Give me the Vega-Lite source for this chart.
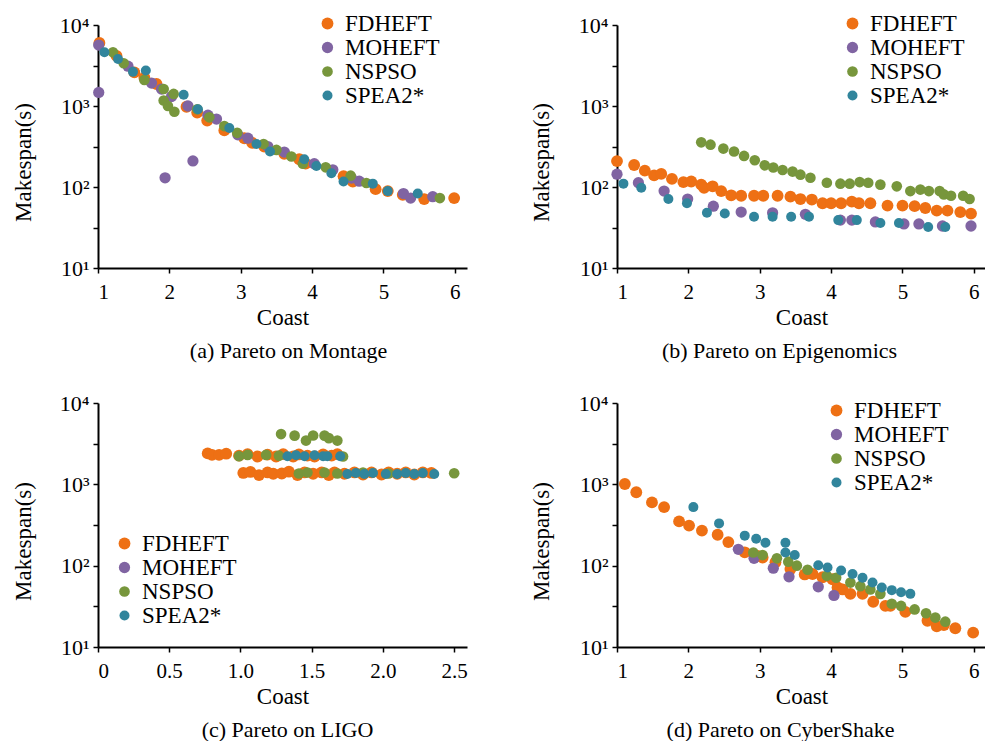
{
  "$schema": "https://vega.github.io/schema/vega-lite/v6.json",
  "padding": {"left": 12, "top": 12, "right": 0, "bottom": 0},
  "background": "white",
  "config": {
    "font": "Liberation Serif",
    "view": {"stroke": null},
    "legend": {
      "labelFont": "Liberation Serif",
      "labelFontSize": 23,
      "labelColor": "black",
      "symbolType": "circle",
      "symbolStrokeWidth": 0,
      "rowPadding": 0,
      "labelOffset": 6,
      "padding": 0
    },
    "title": {"font": "Liberation Serif", "fontSize": 22, "fontWeight": "normal", "color": "black"}
  },
  "resolve": {"scale": {"color": "independent", "size": "independent"}, "legend": {"color": "independent", "size": "independent"}},
  "datasets": {
    "montage": [
      {"Algorithm": "FDHEFT", "Coast": 1.02, "Makespan": 6000},
      {"Algorithm": "FDHEFT", "Coast": 1.26, "Makespan": 4150},
      {"Algorithm": "FDHEFT", "Coast": 1.51, "Makespan": 2600},
      {"Algorithm": "FDHEFT", "Coast": 1.65, "Makespan": 2240},
      {"Algorithm": "FDHEFT", "Coast": 1.82, "Makespan": 1870},
      {"Algorithm": "FDHEFT", "Coast": 2.24, "Makespan": 980},
      {"Algorithm": "FDHEFT", "Coast": 2.39, "Makespan": 830},
      {"Algorithm": "FDHEFT", "Coast": 2.53, "Makespan": 660},
      {"Algorithm": "FDHEFT", "Coast": 2.77, "Makespan": 500},
      {"Algorithm": "FDHEFT", "Coast": 3.05, "Makespan": 400},
      {"Algorithm": "FDHEFT", "Coast": 3.16, "Makespan": 350},
      {"Algorithm": "FDHEFT", "Coast": 3.33, "Makespan": 316},
      {"Algorithm": "FDHEFT", "Coast": 3.61, "Makespan": 257},
      {"Algorithm": "FDHEFT", "Coast": 3.82, "Makespan": 220},
      {"Algorithm": "FDHEFT", "Coast": 3.91, "Makespan": 194},
      {"Algorithm": "FDHEFT", "Coast": 4.44, "Makespan": 136},
      {"Algorithm": "FDHEFT", "Coast": 4.57, "Makespan": 117},
      {"Algorithm": "FDHEFT", "Coast": 4.89, "Makespan": 94},
      {"Algorithm": "FDHEFT", "Coast": 5.06, "Makespan": 89},
      {"Algorithm": "FDHEFT", "Coast": 5.27, "Makespan": 80},
      {"Algorithm": "FDHEFT", "Coast": 5.57, "Makespan": 71},
      {"Algorithm": "FDHEFT", "Coast": 5.99, "Makespan": 73},
      {"Algorithm": "MOHEFT", "Coast": 1.01, "Makespan": 5650},
      {"Algorithm": "MOHEFT", "Coast": 1.01, "Makespan": 1470},
      {"Algorithm": "MOHEFT", "Coast": 1.42, "Makespan": 3100},
      {"Algorithm": "MOHEFT", "Coast": 1.75, "Makespan": 1920},
      {"Algorithm": "MOHEFT", "Coast": 1.89, "Makespan": 1620},
      {"Algorithm": "MOHEFT", "Coast": 2.03, "Makespan": 1310},
      {"Algorithm": "MOHEFT", "Coast": 2.26, "Makespan": 1000},
      {"Algorithm": "MOHEFT", "Coast": 1.94, "Makespan": 130},
      {"Algorithm": "MOHEFT", "Coast": 2.33, "Makespan": 210},
      {"Algorithm": "MOHEFT", "Coast": 2.54, "Makespan": 770},
      {"Algorithm": "MOHEFT", "Coast": 2.66, "Makespan": 690},
      {"Algorithm": "MOHEFT", "Coast": 2.96, "Makespan": 440},
      {"Algorithm": "MOHEFT", "Coast": 3.1, "Makespan": 400},
      {"Algorithm": "MOHEFT", "Coast": 3.38, "Makespan": 316},
      {"Algorithm": "MOHEFT", "Coast": 3.61, "Makespan": 270},
      {"Algorithm": "MOHEFT", "Coast": 4.03, "Makespan": 194},
      {"Algorithm": "MOHEFT", "Coast": 4.29, "Makespan": 163},
      {"Algorithm": "MOHEFT", "Coast": 4.55, "Makespan": 129},
      {"Algorithm": "MOHEFT", "Coast": 4.66, "Makespan": 118},
      {"Algorithm": "MOHEFT", "Coast": 5.28, "Makespan": 83},
      {"Algorithm": "MOHEFT", "Coast": 5.38, "Makespan": 73},
      {"Algorithm": "MOHEFT", "Coast": 5.69, "Makespan": 76},
      {"Algorithm": "NSPSO", "Coast": 1.21, "Makespan": 4600},
      {"Algorithm": "NSPSO", "Coast": 1.36, "Makespan": 3370},
      {"Algorithm": "NSPSO", "Coast": 1.65, "Makespan": 2100},
      {"Algorithm": "NSPSO", "Coast": 1.92, "Makespan": 1620},
      {"Algorithm": "NSPSO", "Coast": 2.06, "Makespan": 1410},
      {"Algorithm": "NSPSO", "Coast": 1.92, "Makespan": 1170},
      {"Algorithm": "NSPSO", "Coast": 1.98, "Makespan": 1000},
      {"Algorithm": "NSPSO", "Coast": 2.07, "Makespan": 850},
      {"Algorithm": "NSPSO", "Coast": 2.39, "Makespan": 910},
      {"Algorithm": "NSPSO", "Coast": 2.56, "Makespan": 725},
      {"Algorithm": "NSPSO", "Coast": 2.77, "Makespan": 565},
      {"Algorithm": "NSPSO", "Coast": 2.95, "Makespan": 466},
      {"Algorithm": "NSPSO", "Coast": 3.32, "Makespan": 340},
      {"Algorithm": "NSPSO", "Coast": 3.5, "Makespan": 287},
      {"Algorithm": "NSPSO", "Coast": 3.71, "Makespan": 238},
      {"Algorithm": "NSPSO", "Coast": 3.87, "Makespan": 194},
      {"Algorithm": "NSPSO", "Coast": 4.19, "Makespan": 175},
      {"Algorithm": "NSPSO", "Coast": 4.54, "Makespan": 138},
      {"Algorithm": "NSPSO", "Coast": 4.76, "Makespan": 112},
      {"Algorithm": "NSPSO", "Coast": 5.79, "Makespan": 73},
      {"Algorithm": "SPEA2*", "Coast": 1.09, "Makespan": 4600},
      {"Algorithm": "SPEA2*", "Coast": 1.28, "Makespan": 3800},
      {"Algorithm": "SPEA2*", "Coast": 1.49, "Makespan": 2640},
      {"Algorithm": "SPEA2*", "Coast": 1.67, "Makespan": 2740},
      {"Algorithm": "SPEA2*", "Coast": 2.2, "Makespan": 1380},
      {"Algorithm": "SPEA2*", "Coast": 2.4, "Makespan": 910},
      {"Algorithm": "SPEA2*", "Coast": 2.84, "Makespan": 535},
      {"Algorithm": "SPEA2*", "Coast": 3.22, "Makespan": 340},
      {"Algorithm": "SPEA2*", "Coast": 3.41, "Makespan": 275},
      {"Algorithm": "SPEA2*", "Coast": 3.89, "Makespan": 220},
      {"Algorithm": "SPEA2*", "Coast": 4.06, "Makespan": 182},
      {"Algorithm": "SPEA2*", "Coast": 4.27, "Makespan": 148},
      {"Algorithm": "SPEA2*", "Coast": 4.44, "Makespan": 117},
      {"Algorithm": "SPEA2*", "Coast": 4.85, "Makespan": 110},
      {"Algorithm": "SPEA2*", "Coast": 5.06, "Makespan": 89},
      {"Algorithm": "SPEA2*", "Coast": 5.48, "Makespan": 83}
    ],
    "epigenomics": [
      {"Algorithm": "FDHEFT", "Coast": 1.0, "Makespan": 209},
      {"Algorithm": "FDHEFT", "Coast": 1.24, "Makespan": 187},
      {"Algorithm": "FDHEFT", "Coast": 1.39, "Makespan": 159},
      {"Algorithm": "FDHEFT", "Coast": 1.52, "Makespan": 139},
      {"Algorithm": "FDHEFT", "Coast": 1.62, "Makespan": 145},
      {"Algorithm": "FDHEFT", "Coast": 1.77, "Makespan": 126},
      {"Algorithm": "FDHEFT", "Coast": 1.93, "Makespan": 115},
      {"Algorithm": "FDHEFT", "Coast": 2.04, "Makespan": 117},
      {"Algorithm": "FDHEFT", "Coast": 2.18, "Makespan": 107},
      {"Algorithm": "FDHEFT", "Coast": 2.22, "Makespan": 98},
      {"Algorithm": "FDHEFT", "Coast": 2.34, "Makespan": 102},
      {"Algorithm": "FDHEFT", "Coast": 2.46, "Makespan": 89},
      {"Algorithm": "FDHEFT", "Coast": 2.6, "Makespan": 79},
      {"Algorithm": "FDHEFT", "Coast": 2.74, "Makespan": 78},
      {"Algorithm": "FDHEFT", "Coast": 2.92, "Makespan": 78},
      {"Algorithm": "FDHEFT", "Coast": 3.05, "Makespan": 78},
      {"Algorithm": "FDHEFT", "Coast": 3.25, "Makespan": 78},
      {"Algorithm": "FDHEFT", "Coast": 3.43, "Makespan": 76},
      {"Algorithm": "FDHEFT", "Coast": 3.57, "Makespan": 71},
      {"Algorithm": "FDHEFT", "Coast": 3.73, "Makespan": 70},
      {"Algorithm": "FDHEFT", "Coast": 3.88, "Makespan": 63},
      {"Algorithm": "FDHEFT", "Coast": 4.0, "Makespan": 63},
      {"Algorithm": "FDHEFT", "Coast": 4.14, "Makespan": 63},
      {"Algorithm": "FDHEFT", "Coast": 4.29, "Makespan": 66},
      {"Algorithm": "FDHEFT", "Coast": 4.39, "Makespan": 63},
      {"Algorithm": "FDHEFT", "Coast": 4.55, "Makespan": 63},
      {"Algorithm": "FDHEFT", "Coast": 4.79, "Makespan": 59},
      {"Algorithm": "FDHEFT", "Coast": 5.0, "Makespan": 59},
      {"Algorithm": "FDHEFT", "Coast": 5.17, "Makespan": 58},
      {"Algorithm": "FDHEFT", "Coast": 5.32, "Makespan": 55},
      {"Algorithm": "FDHEFT", "Coast": 5.48, "Makespan": 51},
      {"Algorithm": "FDHEFT", "Coast": 5.63, "Makespan": 51},
      {"Algorithm": "FDHEFT", "Coast": 5.81, "Makespan": 49},
      {"Algorithm": "FDHEFT", "Coast": 5.96, "Makespan": 47},
      {"Algorithm": "MOHEFT", "Coast": 1.0, "Makespan": 144},
      {"Algorithm": "MOHEFT", "Coast": 1.3, "Makespan": 113},
      {"Algorithm": "MOHEFT", "Coast": 1.66, "Makespan": 89},
      {"Algorithm": "MOHEFT", "Coast": 1.99, "Makespan": 71},
      {"Algorithm": "MOHEFT", "Coast": 2.35, "Makespan": 58},
      {"Algorithm": "MOHEFT", "Coast": 2.74, "Makespan": 49},
      {"Algorithm": "MOHEFT", "Coast": 3.18, "Makespan": 48},
      {"Algorithm": "MOHEFT", "Coast": 3.64, "Makespan": 46},
      {"Algorithm": "MOHEFT", "Coast": 4.13, "Makespan": 39},
      {"Algorithm": "MOHEFT", "Coast": 4.29, "Makespan": 39},
      {"Algorithm": "MOHEFT", "Coast": 4.62, "Makespan": 37},
      {"Algorithm": "MOHEFT", "Coast": 5.02, "Makespan": 35},
      {"Algorithm": "MOHEFT", "Coast": 5.23, "Makespan": 35},
      {"Algorithm": "MOHEFT", "Coast": 5.56, "Makespan": 33},
      {"Algorithm": "MOHEFT", "Coast": 5.96, "Makespan": 33},
      {"Algorithm": "NSPSO", "Coast": 2.18, "Makespan": 356},
      {"Algorithm": "NSPSO", "Coast": 2.31, "Makespan": 333},
      {"Algorithm": "NSPSO", "Coast": 2.49, "Makespan": 298},
      {"Algorithm": "NSPSO", "Coast": 2.64, "Makespan": 274},
      {"Algorithm": "NSPSO", "Coast": 2.78, "Makespan": 242},
      {"Algorithm": "NSPSO", "Coast": 2.93, "Makespan": 214},
      {"Algorithm": "NSPSO", "Coast": 3.07, "Makespan": 185},
      {"Algorithm": "NSPSO", "Coast": 3.19, "Makespan": 174},
      {"Algorithm": "NSPSO", "Coast": 3.32, "Makespan": 162},
      {"Algorithm": "NSPSO", "Coast": 3.46, "Makespan": 155},
      {"Algorithm": "NSPSO", "Coast": 3.57, "Makespan": 142},
      {"Algorithm": "NSPSO", "Coast": 3.71, "Makespan": 130},
      {"Algorithm": "NSPSO", "Coast": 3.94, "Makespan": 113},
      {"Algorithm": "NSPSO", "Coast": 4.13, "Makespan": 110},
      {"Algorithm": "NSPSO", "Coast": 4.26, "Makespan": 110},
      {"Algorithm": "NSPSO", "Coast": 4.4, "Makespan": 115},
      {"Algorithm": "NSPSO", "Coast": 4.52, "Makespan": 113},
      {"Algorithm": "NSPSO", "Coast": 4.69, "Makespan": 107},
      {"Algorithm": "NSPSO", "Coast": 4.92, "Makespan": 102},
      {"Algorithm": "NSPSO", "Coast": 5.11, "Makespan": 89},
      {"Algorithm": "NSPSO", "Coast": 5.25, "Makespan": 93},
      {"Algorithm": "NSPSO", "Coast": 5.37, "Makespan": 89},
      {"Algorithm": "NSPSO", "Coast": 5.52, "Makespan": 89},
      {"Algorithm": "NSPSO", "Coast": 5.58, "Makespan": 81},
      {"Algorithm": "NSPSO", "Coast": 5.68, "Makespan": 78},
      {"Algorithm": "NSPSO", "Coast": 5.85, "Makespan": 78},
      {"Algorithm": "NSPSO", "Coast": 5.94, "Makespan": 71},
      {"Algorithm": "SPEA2*", "Coast": 1.09, "Makespan": 110},
      {"Algorithm": "SPEA2*", "Coast": 1.34, "Makespan": 98},
      {"Algorithm": "SPEA2*", "Coast": 1.72, "Makespan": 71},
      {"Algorithm": "SPEA2*", "Coast": 1.98, "Makespan": 63},
      {"Algorithm": "SPEA2*", "Coast": 2.26, "Makespan": 48},
      {"Algorithm": "SPEA2*", "Coast": 2.51, "Makespan": 47},
      {"Algorithm": "SPEA2*", "Coast": 2.92, "Makespan": 43},
      {"Algorithm": "SPEA2*", "Coast": 3.18, "Makespan": 43},
      {"Algorithm": "SPEA2*", "Coast": 3.44, "Makespan": 43},
      {"Algorithm": "SPEA2*", "Coast": 3.69, "Makespan": 43},
      {"Algorithm": "SPEA2*", "Coast": 4.1, "Makespan": 39},
      {"Algorithm": "SPEA2*", "Coast": 4.36, "Makespan": 39},
      {"Algorithm": "SPEA2*", "Coast": 4.69, "Makespan": 36},
      {"Algorithm": "SPEA2*", "Coast": 4.95, "Makespan": 36},
      {"Algorithm": "SPEA2*", "Coast": 5.36, "Makespan": 32},
      {"Algorithm": "SPEA2*", "Coast": 5.6, "Makespan": 32}
    ],
    "ligo": [
      {"Algorithm": "FDHEFT", "Coast": 0.77, "Makespan": 2400},
      {"Algorithm": "FDHEFT", "Coast": 0.8, "Makespan": 2300},
      {"Algorithm": "FDHEFT", "Coast": 0.85, "Makespan": 2300},
      {"Algorithm": "FDHEFT", "Coast": 0.9, "Makespan": 2380},
      {"Algorithm": "FDHEFT", "Coast": 0.99, "Makespan": 2250},
      {"Algorithm": "FDHEFT", "Coast": 1.05, "Makespan": 2350},
      {"Algorithm": "FDHEFT", "Coast": 1.12, "Makespan": 2200},
      {"Algorithm": "FDHEFT", "Coast": 1.19, "Makespan": 2320},
      {"Algorithm": "FDHEFT", "Coast": 1.25, "Makespan": 2200},
      {"Algorithm": "FDHEFT", "Coast": 1.3, "Makespan": 2350},
      {"Algorithm": "FDHEFT", "Coast": 1.37, "Makespan": 2200},
      {"Algorithm": "FDHEFT", "Coast": 1.41, "Makespan": 2330},
      {"Algorithm": "FDHEFT", "Coast": 1.47, "Makespan": 2250},
      {"Algorithm": "FDHEFT", "Coast": 1.52, "Makespan": 2200},
      {"Algorithm": "FDHEFT", "Coast": 1.58, "Makespan": 2330},
      {"Algorithm": "FDHEFT", "Coast": 1.64, "Makespan": 2250},
      {"Algorithm": "FDHEFT", "Coast": 1.68, "Makespan": 2350},
      {"Algorithm": "FDHEFT", "Coast": 1.02, "Makespan": 1380},
      {"Algorithm": "FDHEFT", "Coast": 1.07, "Makespan": 1420},
      {"Algorithm": "FDHEFT", "Coast": 1.13, "Makespan": 1300},
      {"Algorithm": "FDHEFT", "Coast": 1.19, "Makespan": 1400},
      {"Algorithm": "FDHEFT", "Coast": 1.23, "Makespan": 1350},
      {"Algorithm": "FDHEFT", "Coast": 1.29, "Makespan": 1360},
      {"Algorithm": "FDHEFT", "Coast": 1.34, "Makespan": 1430},
      {"Algorithm": "FDHEFT", "Coast": 1.4, "Makespan": 1300},
      {"Algorithm": "FDHEFT", "Coast": 1.45, "Makespan": 1400},
      {"Algorithm": "FDHEFT", "Coast": 1.51, "Makespan": 1350},
      {"Algorithm": "FDHEFT", "Coast": 1.57, "Makespan": 1400},
      {"Algorithm": "FDHEFT", "Coast": 1.62, "Makespan": 1300},
      {"Algorithm": "FDHEFT", "Coast": 1.66, "Makespan": 1400},
      {"Algorithm": "FDHEFT", "Coast": 1.73, "Makespan": 1350},
      {"Algorithm": "FDHEFT", "Coast": 1.8, "Makespan": 1400},
      {"Algorithm": "FDHEFT", "Coast": 1.86, "Makespan": 1320},
      {"Algorithm": "FDHEFT", "Coast": 1.92, "Makespan": 1400},
      {"Algorithm": "FDHEFT", "Coast": 1.99, "Makespan": 1320},
      {"Algorithm": "FDHEFT", "Coast": 2.04, "Makespan": 1400},
      {"Algorithm": "FDHEFT", "Coast": 2.1, "Makespan": 1350},
      {"Algorithm": "FDHEFT", "Coast": 2.16, "Makespan": 1400},
      {"Algorithm": "FDHEFT", "Coast": 2.22, "Makespan": 1320},
      {"Algorithm": "FDHEFT", "Coast": 2.28, "Makespan": 1400},
      {"Algorithm": "FDHEFT", "Coast": 2.34, "Makespan": 1380},
      {"Algorithm": "NSPSO", "Coast": 1.285, "Makespan": 4150},
      {"Algorithm": "NSPSO", "Coast": 1.38, "Makespan": 3970},
      {"Algorithm": "NSPSO", "Coast": 1.46, "Makespan": 3450},
      {"Algorithm": "NSPSO", "Coast": 1.51, "Makespan": 3990},
      {"Algorithm": "NSPSO", "Coast": 1.59, "Makespan": 3970},
      {"Algorithm": "NSPSO", "Coast": 1.62, "Makespan": 3700},
      {"Algorithm": "NSPSO", "Coast": 1.68, "Makespan": 3450},
      {"Algorithm": "NSPSO", "Coast": 0.99, "Makespan": 2220},
      {"Algorithm": "NSPSO", "Coast": 1.05, "Makespan": 2300},
      {"Algorithm": "NSPSO", "Coast": 1.18, "Makespan": 2300},
      {"Algorithm": "NSPSO", "Coast": 1.27, "Makespan": 2250},
      {"Algorithm": "NSPSO", "Coast": 1.72, "Makespan": 2200},
      {"Algorithm": "NSPSO", "Coast": 1.41, "Makespan": 1360},
      {"Algorithm": "NSPSO", "Coast": 1.47, "Makespan": 1400},
      {"Algorithm": "NSPSO", "Coast": 1.59, "Makespan": 1400},
      {"Algorithm": "NSPSO", "Coast": 1.68, "Makespan": 1360},
      {"Algorithm": "NSPSO", "Coast": 1.86, "Makespan": 1400},
      {"Algorithm": "NSPSO", "Coast": 2.04, "Makespan": 1360},
      {"Algorithm": "NSPSO", "Coast": 2.5, "Makespan": 1370},
      {"Algorithm": "SPEA2*", "Coast": 1.33, "Makespan": 2215},
      {"Algorithm": "SPEA2*", "Coast": 1.39, "Makespan": 2280},
      {"Algorithm": "SPEA2*", "Coast": 1.45, "Makespan": 2215},
      {"Algorithm": "SPEA2*", "Coast": 1.52, "Makespan": 2280},
      {"Algorithm": "SPEA2*", "Coast": 1.58, "Makespan": 2215},
      {"Algorithm": "SPEA2*", "Coast": 1.61, "Makespan": 2215},
      {"Algorithm": "SPEA2*", "Coast": 1.7, "Makespan": 2215},
      {"Algorithm": "SPEA2*", "Coast": 1.75, "Makespan": 1340},
      {"Algorithm": "SPEA2*", "Coast": 1.81, "Makespan": 1380},
      {"Algorithm": "SPEA2*", "Coast": 1.87, "Makespan": 1340},
      {"Algorithm": "SPEA2*", "Coast": 1.93, "Makespan": 1380},
      {"Algorithm": "SPEA2*", "Coast": 2.02, "Makespan": 1340},
      {"Algorithm": "SPEA2*", "Coast": 2.1, "Makespan": 1340},
      {"Algorithm": "SPEA2*", "Coast": 2.16, "Makespan": 1380},
      {"Algorithm": "SPEA2*", "Coast": 2.22, "Makespan": 1340},
      {"Algorithm": "SPEA2*", "Coast": 2.28, "Makespan": 1380},
      {"Algorithm": "SPEA2*", "Coast": 2.36, "Makespan": 1343}
    ],
    "cybershake": [
      {"Algorithm": "FDHEFT", "Coast": 1.11, "Makespan": 1010},
      {"Algorithm": "FDHEFT", "Coast": 1.27, "Makespan": 800},
      {"Algorithm": "FDHEFT", "Coast": 1.49, "Makespan": 600},
      {"Algorithm": "FDHEFT", "Coast": 1.66, "Makespan": 525},
      {"Algorithm": "FDHEFT", "Coast": 1.87, "Makespan": 350},
      {"Algorithm": "FDHEFT", "Coast": 2.01, "Makespan": 311},
      {"Algorithm": "FDHEFT", "Coast": 2.19, "Makespan": 270},
      {"Algorithm": "FDHEFT", "Coast": 2.41, "Makespan": 240},
      {"Algorithm": "FDHEFT", "Coast": 2.56, "Makespan": 195},
      {"Algorithm": "FDHEFT", "Coast": 2.79, "Makespan": 146},
      {"Algorithm": "FDHEFT", "Coast": 2.97, "Makespan": 132},
      {"Algorithm": "FDHEFT", "Coast": 3.04, "Makespan": 126},
      {"Algorithm": "FDHEFT", "Coast": 3.22, "Makespan": 110},
      {"Algorithm": "FDHEFT", "Coast": 3.43, "Makespan": 91},
      {"Algorithm": "FDHEFT", "Coast": 3.63, "Makespan": 78},
      {"Algorithm": "FDHEFT", "Coast": 3.74, "Makespan": 79},
      {"Algorithm": "FDHEFT", "Coast": 3.88, "Makespan": 72},
      {"Algorithm": "FDHEFT", "Coast": 4.02, "Makespan": 68},
      {"Algorithm": "FDHEFT", "Coast": 4.09, "Makespan": 54},
      {"Algorithm": "FDHEFT", "Coast": 4.16, "Makespan": 51},
      {"Algorithm": "FDHEFT", "Coast": 4.27, "Makespan": 45},
      {"Algorithm": "FDHEFT", "Coast": 4.44, "Makespan": 45},
      {"Algorithm": "FDHEFT", "Coast": 4.59, "Makespan": 36},
      {"Algorithm": "FDHEFT", "Coast": 4.76, "Makespan": 32},
      {"Algorithm": "FDHEFT", "Coast": 4.83, "Makespan": 32},
      {"Algorithm": "FDHEFT", "Coast": 5.04, "Makespan": 27},
      {"Algorithm": "FDHEFT", "Coast": 5.35, "Makespan": 21},
      {"Algorithm": "FDHEFT", "Coast": 5.48, "Makespan": 18},
      {"Algorithm": "FDHEFT", "Coast": 5.58, "Makespan": 18.6},
      {"Algorithm": "FDHEFT", "Coast": 5.74, "Makespan": 17},
      {"Algorithm": "FDHEFT", "Coast": 5.99, "Makespan": 15},
      {"Algorithm": "MOHEFT", "Coast": 2.7, "Makespan": 159},
      {"Algorithm": "MOHEFT", "Coast": 2.92, "Makespan": 123},
      {"Algorithm": "MOHEFT", "Coast": 3.19, "Makespan": 93},
      {"Algorithm": "MOHEFT", "Coast": 3.41, "Makespan": 73},
      {"Algorithm": "MOHEFT", "Coast": 3.82, "Makespan": 55},
      {"Algorithm": "MOHEFT", "Coast": 4.04, "Makespan": 43},
      {"Algorithm": "NSPSO", "Coast": 2.91, "Makespan": 145},
      {"Algorithm": "NSPSO", "Coast": 3.04, "Makespan": 135},
      {"Algorithm": "NSPSO", "Coast": 3.24, "Makespan": 123},
      {"Algorithm": "NSPSO", "Coast": 3.4, "Makespan": 112},
      {"Algorithm": "NSPSO", "Coast": 3.52, "Makespan": 100},
      {"Algorithm": "NSPSO", "Coast": 3.67, "Makespan": 89},
      {"Algorithm": "NSPSO", "Coast": 3.94, "Makespan": 75},
      {"Algorithm": "NSPSO", "Coast": 4.07, "Makespan": 71},
      {"Algorithm": "NSPSO", "Coast": 4.27, "Makespan": 62},
      {"Algorithm": "NSPSO", "Coast": 4.41, "Makespan": 56},
      {"Algorithm": "NSPSO", "Coast": 4.55, "Makespan": 51},
      {"Algorithm": "NSPSO", "Coast": 4.69, "Makespan": 45},
      {"Algorithm": "NSPSO", "Coast": 4.85, "Makespan": 34},
      {"Algorithm": "NSPSO", "Coast": 4.98, "Makespan": 32},
      {"Algorithm": "NSPSO", "Coast": 5.17, "Makespan": 29},
      {"Algorithm": "NSPSO", "Coast": 5.33, "Makespan": 26},
      {"Algorithm": "NSPSO", "Coast": 5.46, "Makespan": 23},
      {"Algorithm": "NSPSO", "Coast": 5.6, "Makespan": 20.5},
      {"Algorithm": "SPEA2*", "Coast": 2.07, "Makespan": 525},
      {"Algorithm": "SPEA2*", "Coast": 2.43, "Makespan": 331},
      {"Algorithm": "SPEA2*", "Coast": 2.79, "Makespan": 234},
      {"Algorithm": "SPEA2*", "Coast": 2.95, "Makespan": 214},
      {"Algorithm": "SPEA2*", "Coast": 3.08, "Makespan": 191},
      {"Algorithm": "SPEA2*", "Coast": 3.36, "Makespan": 191},
      {"Algorithm": "SPEA2*", "Coast": 3.36, "Makespan": 145},
      {"Algorithm": "SPEA2*", "Coast": 3.49, "Makespan": 135},
      {"Algorithm": "SPEA2*", "Coast": 3.82, "Makespan": 101},
      {"Algorithm": "SPEA2*", "Coast": 3.95, "Makespan": 95},
      {"Algorithm": "SPEA2*", "Coast": 4.14, "Makespan": 87},
      {"Algorithm": "SPEA2*", "Coast": 4.3, "Makespan": 79},
      {"Algorithm": "SPEA2*", "Coast": 4.44, "Makespan": 71},
      {"Algorithm": "SPEA2*", "Coast": 4.58, "Makespan": 62},
      {"Algorithm": "SPEA2*", "Coast": 4.71, "Makespan": 54},
      {"Algorithm": "SPEA2*", "Coast": 4.85, "Makespan": 50},
      {"Algorithm": "SPEA2*", "Coast": 4.98, "Makespan": 47},
      {"Algorithm": "SPEA2*", "Coast": 5.11, "Makespan": 45}
    ]
  },
  "columns": 2,
  "spacing": {"column": 62, "row": 30},
  "concat": [
    {
      "width": 369, "height": 243,
      "data": {"name": "montage"},
      "mark": {"type": "circle", "opacity": 1},
      "title": {"text": "(a) Pareto on Montage", "orient": "bottom", "anchor": "middle", "offset": 12, "dx": 6},
      "encoding": {
        "x": {"field": "Coast", "type": "quantitative", "scale": {"domain": [1, 6.17], "nice": false, "zero": false}, "axis": {"values": [1, 2, 3, 4, 5, 6], "title": "Coast", "titlePadding": 4, "grid": false, "domainColor": "black", "domainWidth": 2, "tickColor": "black", "tickWidth": 1.5, "tickSize": 5, "labelColor": "black", "labelFont": "Liberation Serif", "labelFontSize": 21, "labelPadding": 8, "titleFont": "Liberation Serif", "titleFontSize": 23, "titleFontWeight": "normal", "titleColor": "black"}},
        "y": {"field": "Makespan", "type": "quantitative", "scale": {"type": "log", "domain": [10, 10000], "nice": false}, "axis": {"values": [10, 31.62, 100, 316.2, 1000, 3162, 10000], "labelExpr": "datum.value === 10 ? '10¹' : datum.value === 100 ? '10²' : datum.value === 1000 ? '10³' : datum.value === 10000 ? '10⁴' : ''", "title": "Makespan(s)", "titleAngle": 270, "titleBaseline": "middle", "titleAlign": "center", "titleX": -75, "titleY": 137, "grid": false, "domainColor": "black", "domainWidth": 2, "tickColor": "black", "tickWidth": 1.5, "tickSize": 5, "labelColor": "black", "labelFont": "Liberation Serif", "labelFontSize": 22, "labelPadding": 4, "titleFont": "Liberation Serif", "titleFontSize": 23, "titleFontWeight": "normal", "titleColor": "black"}},
        "color": {"field": "Algorithm", "type": "nominal", "scale": {"domain": ["FDHEFT", "MOHEFT", "NSPSO", "SPEA2*"], "range": ["#EE7014", "#8064A2", "#77963C", "#31859C"]}, "legend": {"orient": "none", "legendX": 218, "legendY": -13, "title": null, "encode": {"symbols": {"update": {"size": {"signal": "datum.value === 'FDHEFT' ? 240 : 120"}}}}}},
        "size": {"field": "Algorithm", "type": "nominal", "scale": {"domain": ["FDHEFT", "MOHEFT", "NSPSO", "SPEA2*"], "range": [140, 100, 100, 100]}, "legend": null}
      }
    },
    {
      "width": 369, "height": 243,
      "data": {"name": "epigenomics"},
      "mark": {"type": "circle", "opacity": 1},
      "title": {"text": "(b) Pareto on Epigenomics", "orient": "bottom", "anchor": "middle", "offset": 12, "dx": -22},
      "encoding": {
        "x": {"field": "Coast", "type": "quantitative", "scale": {"domain": [1, 6.17], "nice": false, "zero": false}, "axis": {"values": [1, 2, 3, 4, 5, 6], "title": "Coast", "titlePadding": 4, "grid": false, "domainColor": "black", "domainWidth": 2, "tickColor": "black", "tickWidth": 1.5, "tickSize": 5, "labelColor": "black", "labelFont": "Liberation Serif", "labelFontSize": 21, "labelPadding": 8, "titleFont": "Liberation Serif", "titleFontSize": 23, "titleFontWeight": "normal", "titleColor": "black"}},
        "y": {"field": "Makespan", "type": "quantitative", "scale": {"type": "log", "domain": [10, 10000], "nice": false}, "axis": {"values": [10, 31.62, 100, 316.2, 1000, 3162, 10000], "labelExpr": "datum.value === 10 ? '10¹' : datum.value === 100 ? '10²' : datum.value === 1000 ? '10³' : datum.value === 10000 ? '10⁴' : ''", "title": "Makespan(s)", "titleAngle": 270, "titleBaseline": "middle", "titleAlign": "center", "titleX": -76, "titleY": 137, "grid": false, "domainColor": "black", "domainWidth": 2, "tickColor": "black", "tickWidth": 1.5, "tickSize": 5, "labelColor": "black", "labelFont": "Liberation Serif", "labelFontSize": 22, "labelPadding": 4, "titleFont": "Liberation Serif", "titleFontSize": 23, "titleFontWeight": "normal", "titleColor": "black"}},
        "color": {"field": "Algorithm", "type": "nominal", "scale": {"domain": ["FDHEFT", "MOHEFT", "NSPSO", "SPEA2*"], "range": ["#EE7014", "#8064A2", "#77963C", "#31859C"]}, "legend": {"orient": "none", "legendX": 224, "legendY": -13, "title": null, "encode": {"symbols": {"update": {"size": {"signal": "datum.value === 'FDHEFT' ? 240 : 120"}}}}}},
        "size": {"field": "Algorithm", "type": "nominal", "scale": {"domain": ["FDHEFT", "MOHEFT", "NSPSO", "SPEA2*"], "range": [140, 100, 100, 100]}, "legend": null}
      }
    },
    {
      "width": 369, "height": 244,
      "data": {"name": "ligo"},
      "mark": {"type": "circle", "opacity": 1},
      "title": {"text": "(c) Pareto on LIGO", "orient": "bottom", "anchor": "middle", "offset": 12, "dx": 5},
      "encoding": {
        "x": {"field": "Coast", "type": "quantitative", "scale": {"domain": [0, 2.59], "nice": false, "zero": false}, "axis": {"values": [0, 0.5, 1, 1.5, 2, 2.5], "labelExpr": "datum.value === 0 ? '0' : format(datum.value, '.1f')", "title": "Coast", "titlePadding": 4, "grid": false, "domainColor": "black", "domainWidth": 2, "tickColor": "black", "tickWidth": 1.5, "tickSize": 5, "labelColor": "black", "labelFont": "Liberation Serif", "labelFontSize": 21, "labelPadding": 8, "titleFont": "Liberation Serif", "titleFontSize": 23, "titleFontWeight": "normal", "titleColor": "black"}},
        "y": {"field": "Makespan", "type": "quantitative", "scale": {"type": "log", "domain": [10, 10000], "nice": false}, "axis": {"values": [10, 31.62, 100, 316.2, 1000, 3162, 10000], "labelExpr": "datum.value === 10 ? '10¹' : datum.value === 100 ? '10²' : datum.value === 1000 ? '10³' : datum.value === 10000 ? '10⁴' : ''", "title": "Makespan(s)", "titleAngle": 270, "titleBaseline": "middle", "titleAlign": "center", "titleX": -75, "titleY": 138, "grid": false, "domainColor": "black", "domainWidth": 2, "tickColor": "black", "tickWidth": 1.5, "tickSize": 5, "labelColor": "black", "labelFont": "Liberation Serif", "labelFontSize": 22, "labelPadding": 4, "titleFont": "Liberation Serif", "titleFontSize": 23, "titleFontWeight": "normal", "titleColor": "black"}},
        "color": {"field": "Algorithm", "type": "nominal", "scale": {"domain": ["FDHEFT", "MOHEFT", "NSPSO", "SPEA2*"], "range": ["#EE7014", "#8064A2", "#77963C", "#31859C"]}, "legend": {"orient": "none", "legendX": 15, "legendY": 129, "title": null, "encode": {"symbols": {"update": {"size": {"signal": "datum.value === 'FDHEFT' ? 200 : 120"}}}}}},
        "size": {"field": "Algorithm", "type": "nominal", "scale": {"domain": ["FDHEFT", "MOHEFT", "NSPSO", "SPEA2*"], "range": [140, 100, 100, 100]}, "legend": null}
      }
    },
    {
      "width": 369, "height": 244,
      "data": {"name": "cybershake"},
      "mark": {"type": "circle", "opacity": 1},
      "title": {"text": "(d) Pareto on CyberShake", "orient": "bottom", "anchor": "middle", "offset": 12, "dx": -21},
      "encoding": {
        "x": {"field": "Coast", "type": "quantitative", "scale": {"domain": [1, 6.17], "nice": false, "zero": false}, "axis": {"values": [1, 2, 3, 4, 5, 6], "title": "Coast", "titlePadding": 4, "grid": false, "domainColor": "black", "domainWidth": 2, "tickColor": "black", "tickWidth": 1.5, "tickSize": 5, "labelColor": "black", "labelFont": "Liberation Serif", "labelFontSize": 21, "labelPadding": 8, "titleFont": "Liberation Serif", "titleFontSize": 23, "titleFontWeight": "normal", "titleColor": "black"}},
        "y": {"field": "Makespan", "type": "quantitative", "scale": {"type": "log", "domain": [10, 10000], "nice": false}, "axis": {"values": [10, 31.62, 100, 316.2, 1000, 3162, 10000], "labelExpr": "datum.value === 10 ? '10¹' : datum.value === 100 ? '10²' : datum.value === 1000 ? '10³' : datum.value === 10000 ? '10⁴' : ''", "title": "Makespan(s)", "titleAngle": 270, "titleBaseline": "middle", "titleAlign": "center", "titleX": -76, "titleY": 138, "grid": false, "domainColor": "black", "domainWidth": 2, "tickColor": "black", "tickWidth": 1.5, "tickSize": 5, "labelColor": "black", "labelFont": "Liberation Serif", "labelFontSize": 22, "labelPadding": 4, "titleFont": "Liberation Serif", "titleFontSize": 23, "titleFontWeight": "normal", "titleColor": "black"}},
        "color": {"field": "Algorithm", "type": "nominal", "scale": {"domain": ["FDHEFT", "MOHEFT", "NSPSO", "SPEA2*"], "range": ["#EE7014", "#8064A2", "#77963C", "#31859C"]}, "legend": {"orient": "none", "legendX": 208, "legendY": -4, "title": null, "encode": {"symbols": {"update": {"size": {"signal": "datum.value === 'FDHEFT' ? 240 : 120"}}}}}},
        "size": {"field": "Algorithm", "type": "nominal", "scale": {"domain": ["FDHEFT", "MOHEFT", "NSPSO", "SPEA2*"], "range": [140, 100, 100, 100]}, "legend": null}
      }
    }
  ]
}
